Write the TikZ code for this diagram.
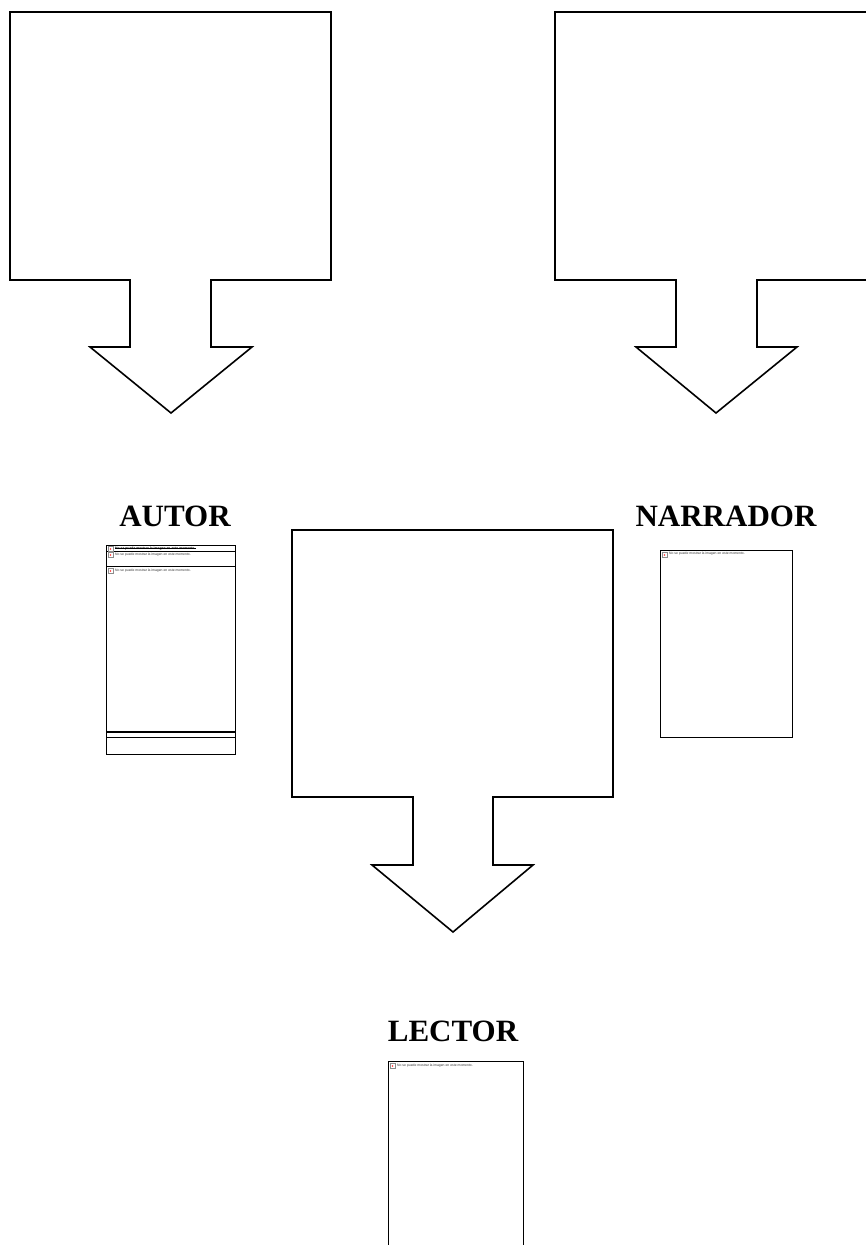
\documentclass[tikz,border=0pt]{standalone}
\usepackage{fontspec}
\setmainfont{Liberation Serif}
\newfontfamily\phfont{Liberation Sans}
\begin{document}
\begin{tikzpicture}[x=1pt,y=-1pt,
  callout/.style={draw=black,line width=1.6pt,line join=miter,fill=white},
  label/.style={font=\fontsize{31}{36}\selectfont\bfseries,anchor=base,inner sep=0pt},
  phbox/.style={draw=black,line width=1pt,fill=white},
  phtext/.style={font=\phfont\fontsize{3.4}{4}\selectfont,anchor=west,inner sep=0pt,text=black!80},
  icon/.style={draw=black!45,line width=0.6pt,fill=white,minimum size=5pt,inner sep=0pt}]
\clip (0,0) rectangle (866,1245);
\fill[white] (0,0) rectangle (866,1245);
% left callout
\draw[callout] (10,12) -- (331,12) -- (331,280) -- (211,280) -- (211,347) -- (252,347)
  -- (171,413) -- (90,347) -- (130,347) -- (130,280) -- (10,280) -- cycle;
% right callout
\draw[callout] (555,12) -- (876,12) -- (876,280) -- (757,280) -- (757,347) -- (797,347)
  -- (716,413) -- (636,347) -- (676,347) -- (676,280) -- (555,280) -- cycle;
% middle callout
\draw[callout] (292,530) -- (613,530) -- (613,797) -- (493,797) -- (493,865) -- (533,865)
  -- (453,932) -- (372,865) -- (413,865) -- (413,797) -- (292,797) -- cycle;
% labels
\node[label] (autor) at (175,526) {AUTOR};
\node[label] (narrador) at (726,526) {NARRADOR};
\node[label] (lector) at (453,1041) {LECTOR};
% AUTOR placeholder
\draw[phbox] (106,545) rectangle (235,754);
\draw[line width=1pt] (106,551) -- (235,551);
\draw[line width=1pt] (106,566) -- (235,566);
\draw[line width=1.8pt] (106,732) -- (235,732);
\draw[line width=1pt] (106,737) -- (235,737);
\node[icon] (ia1) at (110.5,549) {};
\fill[red!80] (ia1.center) circle (0.9pt);
\node[phtext,font=\phfont\bfseries\fontsize{3.4}{4}\selectfont,text=black] (ta1) at (115,548.5) {No se puede mostrar la imagen en este momento.};
\draw[line width=0.5pt] (ta1.west) -- (ta1.east);
\node[icon] (ia2) at (110.5,555) {};
\fill[red!80] (ia2.center) circle (0.9pt);
\node[phtext] (ta2) at (115,555) {No se puede mostrar la imagen en este momento.};
\node[icon] (ia3) at (110.5,571) {};
\fill[red!80] (ia3.center) circle (0.9pt);
\node[phtext] (ta3) at (115,571) {No se puede mostrar la imagen en este momento.};
% NARRADOR placeholder
\draw[phbox] (660,550) rectangle (792,737);
\node[icon] (in1) at (664.5,555) {};
\fill[red!80] (in1.center) circle (0.9pt);
\node[phtext] (tn1) at (669,554) {No se puede mostrar la imagen en este momento.};
% LECTOR placeholder
\draw[phbox] (388,1061) rectangle (523,1260);
\node[icon] (il1) at (392.5,1066) {};
\fill[red!80] (il1.center) circle (0.9pt);
\node[phtext] (tl1) at (397,1065.5) {No se puede mostrar la imagen en este momento.};
\end{tikzpicture}
\end{document}
